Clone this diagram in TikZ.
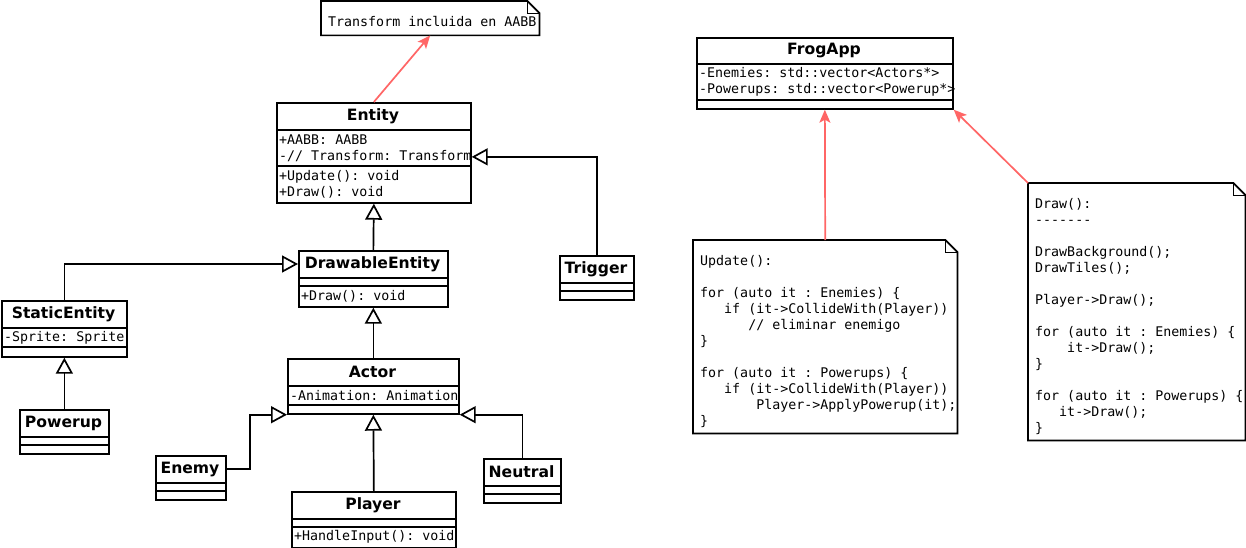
\documentclass[tikz,border=0pt]{standalone}
\usepackage{fontspec}
\setmainfont{DejaVu Sans}
\setmonofont{DejaVu Sans Mono}
\usetikzlibrary{arrows.meta,calc}

\definecolor{notered}{RGB}{255,102,102}
\newcommand{\umltitlefont}{\bfseries\fontsize{15.6}{18}\selectfont}
\newcommand{\umlcodefont}{\ttfamily\fontsize{13.3}{16}\selectfont}

\tikzset{
  classframe/.style={draw, line width=1.7pt, inner sep=0pt},
  classtitle/.style={inner sep=0pt, font=\umltitlefont},
  member/.style={anchor=west, inner sep=0pt, align=left, font=\umlcodefont},
  noteframe/.style={line width=1.7pt},
  inherit/.style={line width=1.7pt, -{Triangle[open, length=16pt, width=17pt]}},
  notelink/.style={draw=notered, line width=1.7pt, -{Stealth[length=13pt, width=11pt, inset=3pt]}},
}

% name, left, top, width, title h, attr h, meth h, title
\newcommand{\umlclass}[8]{%
  \node[classframe, minimum width=#4pt, minimum height={(#5+#6+#7)*1pt}, anchor=north west] (#1) at (#2,#3) {};
  \draw[classframe] (#2,#3+#5) -- ++(#4,0) (#2,#3+#5+#6) -- ++(#4,0);
  \node[classtitle] (#1-title) at (#2+#4/2,#3+#5/2) {#8};
  \coordinate (#1-attr) at (#2+3,#3+#5+#6/2);
  \coordinate (#1-meth) at (#2+3,#3+#5+#6+#7/2);
}
% name, left, top, right, bottom
\newcommand{\umlnote}[5]{%
  \node[inner sep=0pt, minimum width={(#4-#2)*1pt}, minimum height={(#5-#3)*1pt}, anchor=north west] (#1) at (#2,#3) {};
  \draw[noteframe] (#1.north west) -- ([xshift=-12pt]#1.north east) -- ([yshift=-12pt]#1.north east) -- (#1.south east) -- (#1.south west) -- cycle;
  \draw[line width=0.9pt] ([xshift=-12pt]#1.north east) |- ([yshift=-12pt]#1.north east);
}

\begin{document}
\begin{tikzpicture}[x=1pt,y=-1pt]
\useasboundingbox (0,0) rectangle (1246,548);

\umlclass{entity}{276}{102}{194}{28}{36}{36}{Entity}
\node[member] (entity-attrs) at (entity-attr) {+AABB: AABB\\-// Transform: Transform};
\node[member] (entity-meths) at (entity-meth) {+Update(): void\\+Draw(): void};

\umlclass{drawable}{298}{250}{149}{28}{8}{20}{DrawableEntity}
\node[member] (drawable-meths) at (drawable-meth) {+Draw(): void};

\umlclass{trigger}{559}{255}{74}{28}{8}{8}{Trigger}

\umlclass{static}{1}{300}{125}{28}{19}{9}{StaticEntity}
\node[member] (static-attrs) at (static-attr) {-Sprite: Sprite};

\umlclass{powerup}{19}{409}{89}{28}{8}{8}{Powerup}

\umlclass{actor}{287}{358}{171}{28}{19}{8}{Actor}
\node[member] (actor-attrs) at (actor-attr) {-Animation: Animation};

\umlclass{enemy}{155}{455}{70}{28}{8}{8}{Enemy}
\umlclass{player}{291}{491}{164}{28}{8}{20}{Player}
\node[member] (player-meths) at (player-meth) {+HandleInput(): void};
\umlclass{neutral}{483}{458}{77}{28}{8}{8}{Neutral}

\umlclass{frogapp}{696}{37}{256}{27}{36}{8}{FrogApp}
\node[member] (frogapp-attrs) at (frogapp-attr) {-Enemies: std::vector<Actors*>\\-Powerups: std::vector<Powerup*>};

% notes
\umlnote{transnote}{321}{1}{539}{35}
\node[member] (transnote-text) at (328,22) {Transform incluida en AABB};

\umlnote{updnote}{693}{240}{957}{433}
\node[member, anchor=north west] (updnote-text) at (700,255) {Update():\\
~\\
for (auto it : Enemies) \{\\
~~~if (it->CollideWith(Player))\\
~~~~~~// eliminar enemigo\\
\}\\
~\\
for (auto it : Powerups) \{\\
~~~if (it->CollideWith(Player))\\
~~~~~~~Player->ApplyPowerup(it);\\
\}};

\umlnote{drawnote}{1028}{183}{1245}{440}
\node[member, anchor=north west] (drawnote-text) at (1035,198) {Draw():\\
-------\\
~\\
DrawBackground();\\
DrawTiles();\\
~\\
Player->Draw();\\
~\\
for (auto it : Enemies) \{\\
~~~~it->Draw();\\
\}\\
~\\
for (auto it : Powerups) \{\\
~~~it->Draw();\\
\}};

% generalizations
\draw[inherit] (drawable.north) -- (entity.south);
\draw[inherit] (trigger.north) |- ([yshift=-4pt]entity.east);
\draw[inherit] (static.north) |- ([yshift=-14pt]drawable.north west);
\draw[inherit] (powerup.north) -- (static.south);
\draw[inherit] (actor.north) -- (drawable.south);
\draw[inherit] ([yshift=-14pt]enemy.north east) -- ++(23,0) |- (actor.south west);
\draw[inherit] (player.north) -- (actor.south);
\draw[inherit] (neutral.north) |- (actor.south east);

% note links
\draw[notelink] (entity.north) -- (transnote.south);
\draw[notelink] (updnote.north) -- (frogapp.south);
\draw[notelink] (drawnote.north west) -- (frogapp.south east);
\end{tikzpicture}
\end{document}
